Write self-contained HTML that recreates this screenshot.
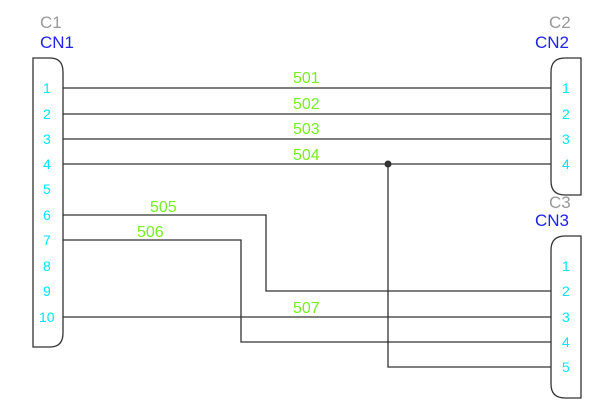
<!DOCTYPE html>
<html><head><style>
html,body{margin:0;padding:0;background:#fff;}
svg{display:block;}
text{font-family:"Liberation Sans",sans-serif;}
.p{fill:#00e5ff;font-size:14px;}
.g{fill:#77ee22;font-size:16px;}
</style></head><body>
<svg width="607" height="417" viewBox="0 0 607 417">
<g fill="none" stroke="#333" stroke-width="1.3">
<path d="M33 58 H50 Q63 58 63 72 V333 Q63 347 50 347 H33 Z"/>
<path d="M581 58 H565 Q551 58 551 72 V181 Q551 195 565 195 H581 Z"/>
<path d="M581 236 H565 Q551 236 551 250 V384 Q551 398 565 398 H581 Z"/>
<path d="M63 88 H551 M63 114 H551 M63 139 H551 M63 164 H551"/>
<path d="M388 164 V367 H551"/>
<path d="M63 215 H266 V291 H551"/>
<path d="M63 240 H241 V342 H551"/>
<path d="M63 317 H551"/>
</g>
<circle cx="388" cy="164" r="3.5" fill="#333"/>
<text x="40" y="28" fill="#999" font-size="17">C1</text>
<text x="40" y="48" fill="#2222ee" font-size="17">CN1</text>
<text x="549" y="28" fill="#999" font-size="17">C2</text>
<text x="535" y="48" fill="#2222ee" font-size="17">CN2</text>
<text x="549" y="208" fill="#999" font-size="17">C3</text>
<text x="535" y="226" fill="#2222ee" font-size="17">CN3</text>
<g class="p">
<text x="43" y="93">1</text><text x="43" y="119">2</text><text x="43" y="144">3</text><text x="43" y="169">4</text><text x="43" y="194">5</text><text x="43" y="220">6</text><text x="43" y="245">7</text><text x="43" y="271">8</text><text x="43" y="296">9</text><text x="39" y="322">10</text>
<text x="562" y="93">1</text><text x="562" y="119">2</text><text x="562" y="144">3</text><text x="562" y="169">4</text>
<text x="562" y="271">1</text><text x="562" y="296">2</text><text x="562" y="322">3</text><text x="562" y="347">4</text><text x="562" y="372">5</text>
</g>
<g class="g">
<text x="293" y="83">501</text><text x="293" y="109">502</text><text x="293" y="134">503</text><text x="293" y="160">504</text>
<text x="150" y="212">505</text><text x="137" y="237">506</text><text x="293" y="313">507</text>
</g>
</svg>
</body></html>
